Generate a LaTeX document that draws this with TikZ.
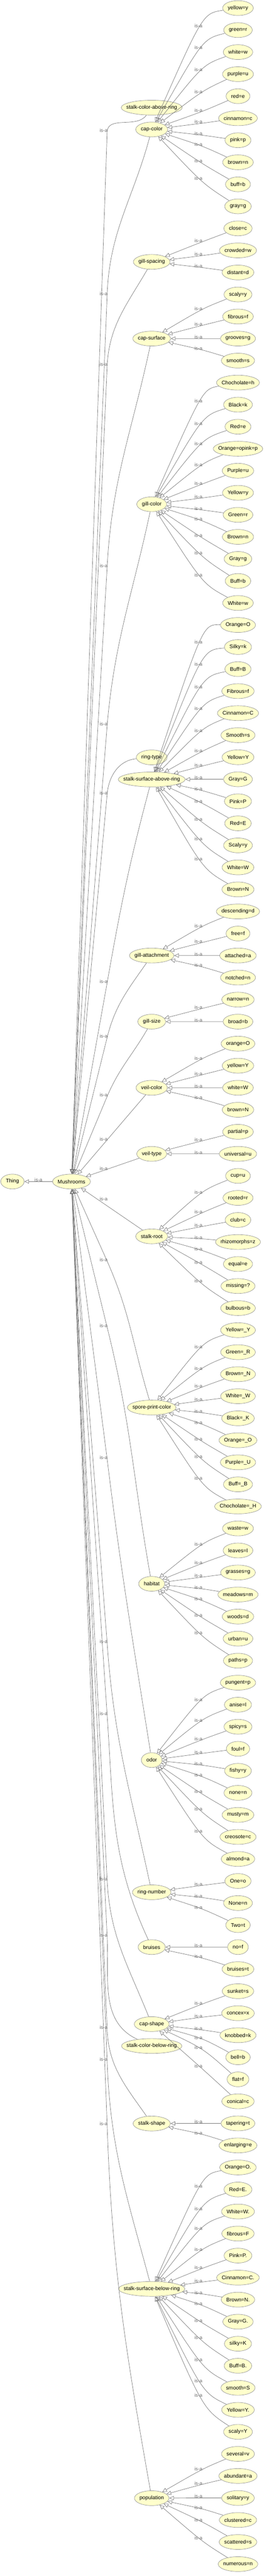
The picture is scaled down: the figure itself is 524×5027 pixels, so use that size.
\documentclass[tikz,border=0pt]{standalone}
\usepackage{fontspec}
\setmainfont{Liberation Sans}
\usetikzlibrary{calc,arrows.meta,shapes.geometric}
\definecolor{nfill}{RGB}{255,255,204}
\definecolor{nline}{RGB}{150,150,150}
\definecolor{eline}{RGB}{120,120,120}
\definecolor{ltext}{RGB}{110,110,110}
\newcommand\ntxt[1]{\makebox[\dimexpr\width*707/1000+14.14pt\relax][c]{#1}}
\tikzset{
 ent/.style={shape=ellipse, draw=nline, line width=0.7pt, fill=nfill, inner sep=0pt, minimum height=29pt, font=\fontsize{10.3}{12}\selectfont},
 isa/.style={draw=eline, line width=0.7pt, -{Triangle[open,length=9pt,width=8pt]}},
 lbl/.style={font=\fontsize{9.5}{11}\selectfont, text=ltext, inner sep=0pt},
}
% leaf: index, text, parent, label y
\newcommand\leafnode[4]{%
 \node[ent] (l#1) at (464.3,{15.7+43*#1}) {\ntxt{#2}};
 \draw[isa] (l#1) .. controls ($1.33333*(392,#4+3)-0.16667*(l#1)-0.16667*(#3)$) .. (#3);
 \node[lbl] at (387,#4) {is-a};}
% mid edge: node, label y, out angle, in angle at label point
\newcommand\midE[4]{%
 \draw[isa] (#1) to[out=#3,in=#4] (209,#2+3) -- (mush);
 \node[lbl] at (202,#2) {is-a};}
\begin{document}
\begin{tikzpicture}[x=1pt,y=-1pt]
\fill[white] (0,0) rectangle (524,5027);
\useasboundingbox (0,0) rectangle (524,5027);
% root
\node[ent] (thing) at (24.2,2305.7) {\ntxt{Thing}};
\node[ent] (mush) at (139.5,2305.7) {\ntxt{Mushrooms}};
\draw[isa] (mush) -- (thing);
\node[lbl] at (75,2302.5) {is-a};
% middle level
\node[ent] (scar) at (296,210) {\ntxt{stalk-color-above-ring}};
\node[ent] (cc) at (296,252.7) {\ntxt{cap-color}};
\node[ent] (gsp) at (296,511) {\ntxt{gill-spacing}};
\node[ent] (csf) at (296,660.7) {\ntxt{cap-surface}};
\node[ent] (gc) at (296,984) {\ntxt{gill-color}};
\node[ent] (rt) at (296,1478) {\ntxt{ring-type}};
\node[ent] (ssar) at (296,1521) {\ntxt{stalk-surface-above-ring}};
\node[ent] (ga) at (296,1864.7) {\ntxt{gill-attachment}};
\node[ent] (gsz) at (296,1993.7) {\ntxt{gill-size}};
\node[ent] (vc) at (296,2122.7) {\ntxt{veil-color}};
\node[ent] (vt) at (296,2251.7) {\ntxt{veil-type}};
\node[ent] (sr) at (296,2412.7) {\ntxt{stalk-root}};
\node[ent] (spc) at (296,2746.7) {\ntxt{spore-print-color}};
\node[ent] (hab) at (296,3090.7) {\ntxt{habitat}};
\node[ent] (odor) at (296,3434.7) {\ntxt{odor}};
\node[ent] (rn) at (296,3692.7) {\ntxt{ring-number}};
\node[ent] (br) at (296,3799.7) {\ntxt{bruises}};
\node[ent] (cs) at (296,3950) {\ntxt{cap-shape}};
\node[ent] (scbr) at (296,3992.7) {\ntxt{stalk-color-below-ring}};
\node[ent] (ssh) at (296,4144) {\ntxt{stalk-shape}};
\node[ent] (ssbr) at (296,4466.7) {\ntxt{stalk-surface-below-ring}};
\node[ent] (pop) at (296,4875) {\ntxt{population}};
% middle -> Mushrooms
\midE{scar}{254.7}{235}{88}
\midE{cc}{572.7}{255}{88}
\midE{gsp}{711}{240}{87}
\midE{csf}{1104}{258}{87}
\midE{gc}{1412.7}{258}{85}
\midE{rt}{1547}{185}{85}
\midE{ssar}{1915}{255}{80}
\midE{ga}{2021.7}{235}{76}
\midE{gsz}{2136.7}{240}{67}
\draw[isa] (vc) -- (mush); \node[lbl] at (202,2222.7) {is-a};
\draw[isa] (vt) -- (mush); \node[lbl] at (202,2280) {is-a};
\draw[isa] (sr) -- (mush); \node[lbl] at (202,2339.7) {is-a};
\midE{spc}{2458}{107}{-66}
\midE{hab}{2587}{100}{-76}
\midE{odor}{2844}{99}{-83}
\midE{rn}{3203}{102}{-86}
\midE{br}{3344}{115}{-86}
\midE{cs}{3666.7}{112}{-87}
\midE{scbr}{3776.7}{155}{-87}
\midE{ssh}{3956.7}{125}{-88}
\midE{ssbr}{4018.7}{105}{-88}
\midE{pop}{4144}{100}{-88}
% leaves
\leafnode{0}{yellow=y}{cc}{50}
\leafnode{1}{green=r}{cc}{92.7}
\leafnode{2}{white=w}{cc}{136}
\leafnode{3}{purple=u}{cc}{179}
\leafnode{4}{red=e}{cc}{215}
\leafnode{5}{cinnamon=c}{cc}{237.7}
\leafnode{6}{pink=p}{cc}{260.7}
\leafnode{7}{brown=n}{cc}{282}
\leafnode{8}{buff=b}{cc}{314}
\leafnode{9}{gray=g}{cc}{348}
\leafnode{10}{close=c}{gsp}{470}
\leafnode{11}{crowded=w}{gsp}{496}
\leafnode{12}{distant=d}{gsp}{519}
\leafnode{13}{scaly=y}{csf}{602.7}
\leafnode{14}{fibrous=f}{csf}{632.7}
\leafnode{15}{grooves=g}{csf}{657.7}
\leafnode{16}{smooth=s}{csf}{679.7}
\leafnode{17}{Chocholate=h}{gc}{782.7}
\leafnode{18}{Black=k}{gc}{826.7}
\leafnode{19}{Red=e}{gc}{865.7}
\leafnode{20}{Orange=opink=p}{gc}{906.7}
\leafnode{21}{Purple=u}{gc}{942.7}
\leafnode{22}{Yellow=y}{gc}{969}
\leafnode{23}{Green=r}{gc}{992}
\leafnode{24}{Brown=n}{gc}{1013}
\leafnode{25}{Gray=g}{gc}{1044.7}
\leafnode{26}{Buff=b}{gc}{1079}
\leafnode{27}{White=w}{gc}{1122}
\leafnode{28}{Orange=O}{ssar}{1253.3}
\leafnode{29}{Silky=k}{ssar}{1295.7}
\leafnode{30}{Buff=B}{ssar}{1340}
\leafnode{31}{Fibrous=f}{ssar}{1383}
\leafnode{32}{Cinnamon=C}{ssar}{1425.7}
\leafnode{33}{Smooth=s}{ssar}{1465}
\leafnode{34}{Yellow=Y}{ssar}{1492.7}
\leafnode{35}{Gray=G}{ssar}{1517.7}
\leafnode{36}{Pink=P}{ssar}{1539.7}
\leafnode{37}{Red=E}{ssar}{1563.7}
\leafnode{38}{Scaly=y}{ssar}{1599}
\leafnode{39}{White=W}{ssar}{1637}
\leafnode{40}{Brown=N}{ssar}{1676.3}
\leafnode{41}{descending=d}{ga}{1807}
\leafnode{42}{free=f}{ga}{1837}
\leafnode{43}{attached=a}{ga}{1861.7}
\leafnode{44}{notched=n}{ga}{1883.7}
\leafnode{45}{narrow=n}{gsz}{1965.7}
\leafnode{46}{broad=b}{gsz}{1990.7}
\leafnode{47}{orange=O}{vc}{2065}
\leafnode{48}{yellow=Y}{vc}{2095}
\leafnode{49}{white=W}{vc}{2119.7}
\leafnode{50}{brown=N}{vc}{2142}
\leafnode{51}{partial=p}{vt}{2224}
\leafnode{52}{universal=u}{vt}{2248.7}
\leafnode{53}{cup=u}{sr}{2327}
\leafnode{54}{rooted=r}{sr}{2365}
\leafnode{55}{club=c}{sr}{2391}
\leafnode{56}{rhizomorphs=z}{sr}{2414.7}
\leafnode{57}{equal=e}{sr}{2437}
\leafnode{58}{missing=?}{sr}{2463.7}
\leafnode{59}{bulbous=b}{sr}{2499.7}
\leafnode{60}{Yellow=\_Y}{spc}{2628.7}
\leafnode{61}{Green=\_R}{spc}{2670}
\leafnode{62}{Brown=\_N}{spc}{2705}
\leafnode{63}{White=\_W}{spc}{2730.7}
\leafnode{64}{Black=\_K}{spc}{2754}
\leafnode{65}{Orange=\_O}{spc}{2776}
\leafnode{66}{Purple=\_U}{spc}{2808}
\leafnode{67}{Buff=\_B}{spc}{2842}
\leafnode{68}{Chocholate=\_H}{spc}{2885}
\leafnode{69}{waste=w}{hab}{3013.7}
\leafnode{70}{leaves=l}{hab}{3049}
\leafnode{71}{grasses=g}{hab}{3075}
\leafnode{72}{meadows=m}{hab}{3097.7}
\leafnode{73}{woods=d}{hab}{3120}
\leafnode{74}{urban=u}{hab}{3152}
\leafnode{75}{paths=p}{hab}{3186}
\leafnode{76}{pungent=p}{odor}{3317}
\leafnode{77}{anise=l}{odor}{3356.7}
\leafnode{78}{spicy=s}{odor}{3393}
\leafnode{79}{foul=f}{odor}{3419}
\leafnode{80}{fishy=y}{odor}{3441.7}
\leafnode{81}{none=n}{odor}{3463.7}
\leafnode{82}{musty=m}{odor}{3496}
\leafnode{83}{creosote=c}{odor}{3530}
\leafnode{84}{almond=a}{odor}{3573}
\leafnode{85}{One=o}{rn}{3676.7}
\leafnode{86}{None=n}{rn}{3700}
\leafnode{87}{Two=t}{rn}{3722}
\leafnode{88}{no=f}{br}{3796.7}
\leafnode{89}{bruises=t}{br}{3818}
\leafnode{90}{sunket=s}{cs}{3909}
\leafnode{91}{concex=x}{cs}{3934}
\leafnode{92}{knobbed=k}{cs}{3958.3}
\leafnode{93}{bell=b}{cs}{3976}
\leafnode{94}{flat=f}{cs}{3996}
\leafnode{95}{conical=c}{cs}{4032}
\leafnode{96}{tapering=t}{ssh}{4140.7}
\leafnode{97}{enlarging=e}{ssh}{4162}
\leafnode{98}{Orange=O.}{ssbr}{4266}
\leafnode{99}{Red=E.}{ssbr}{4310}
\leafnode{100}{White=W.}{ssbr}{4348.7}
\leafnode{101}{fibrous=F}{ssbr}{4390}
\leafnode{102}{Pink=P.}{ssbr}{4425}
\leafnode{103}{Cinnamon=C.}{ssbr}{4450.7}
\leafnode{104}{Brown=N.}{ssbr}{4473.7}
\leafnode{105}{Gray=G.}{ssbr}{4495.7}
\leafnode{106}{silky=K}{ssbr}{4528}
\leafnode{107}{Buff=B.}{ssbr}{4562}
\leafnode{108}{smooth=S}{ssbr}{4605}
\leafnode{109}{Yellow=Y.}{ssbr}{4645.7}
\leafnode{110}{scaly=Y}{ssbr}{4674.3}
\leafnode{111}{several=v}{pop}{4818}
\leafnode{112}{abundant=a}{pop}{4846}
\leafnode{113}{solitary=y}{pop}{4871.7}
\leafnode{114}{clustered=c}{pop}{4893}
\leafnode{115}{scattered=s}{pop}{4917.7}
\leafnode{116}{numerous=n}{pop}{4952.7}
\end{tikzpicture}
\end{document}
